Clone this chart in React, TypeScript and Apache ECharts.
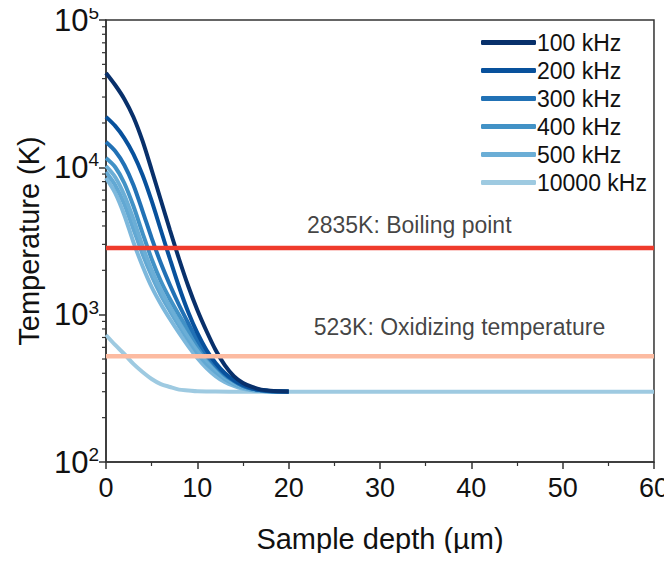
import React, { useEffect, useRef } from "react";
import * as echarts from "echarts";

const depth = [0, 1, 2, 3, 4, 5, 6, 7, 8, 9, 10, 11, 12, 13, 14, 15, 16, 17, 18, 20];
const depthWide = [0, 1, 2, 3, 4, 5, 6, 7, 8, 9, 10, 12, 15, 20, 30, 40, 50, 60];

const t100 = [43700, 36200, 29100, 21960, 15100, 9590, 6000, 3755, 2387, 1565, 1076, 775, 576, 455, 383, 344, 323, 310, 305, 301];
const t200 = [22000, 19100, 15800, 12300, 8870, 5910, 3755, 2387, 1541, 1042, 751, 576, 470, 402, 360, 333, 316, 307, 303, 301];
const t300 = [14860, 12900, 10370, 7590, 5050, 3310, 2240, 1590, 1163, 878, 673, 541, 455, 396, 355, 328, 314, 307, 302, 300];
const t400 = [11570, 10050, 7830, 5460, 3580, 2390, 1692, 1277, 995, 787, 632, 524, 448, 389, 355, 328, 314, 307, 302, 300];
const t500 = [10210, 8600, 6490, 4460, 2920, 2010, 1471, 1127, 892, 717, 585, 492, 428, 378, 344, 323, 310, 305, 302, 300];
const tExtraA = [9300, 7590, 5640, 3815, 2580, 1830, 1360, 1060, 838, 673, 549, 463, 408, 366, 338, 320, 308, 304, 301, 300];
const tExtraB = [8470, 6700, 4750, 3110, 2140, 1541, 1181, 934, 751, 612, 508, 434, 383, 349, 328, 314, 307, 303, 301, 300];
const t10000 = [728, 623, 541, 463, 408, 366, 338, 323, 310, 306, 302, 301, 300, 300, 300, 300, 300, 300];

const boilingPoint = 2835;
const oxidizingTemp = 523;
const xRange = [0, 60];
const yMinorTicks = [200, 300, 400, 500, 600, 700, 800, 900, 2000, 3000, 4000, 5000, 6000, 7000, 8000, 9000, 20000, 30000, 40000, 50000, 60000, 70000, 80000, 90000];

const FONT = "Liberation Sans, Arial, sans-serif";

export default function App() {
  const ref = useRef<HTMLDivElement>(null);
  useEffect(() => {
    if (!ref.current) return;
    const chart = echarts.init(ref.current, undefined, { renderer: "svg" });
    const mk = (arr: number[], xs: number[]) => xs.map((d, i) => [d, arr[i]]);
    const curve = (name: string, arr: number[], color: string, xs = depth) => ({
      type: "line",
      name,
      data: mk(arr, xs),
      showSymbol: false,
      symbol: "none",
      smooth: 0.3,
      lineStyle: { color, width: 4 },
      itemStyle: { color },
      z: 2,
    });
    const hline = (v: number, color: string) => ({
      type: "line",
      data: [[xRange[0], v], [xRange[1], v]],
      showSymbol: false,
      symbol: "none",
      lineStyle: { color, width: 4.5 },
      itemStyle: { color },
      z: 3,
      silent: true,
    });
    const label = (x: number, v: number, text: string, dist: number) => ({
      type: "scatter",
      data: [[x, v]],
      symbolSize: 1,
      itemStyle: { color: "rgba(0,0,0,0)" },
      label: {
        show: true,
        position: "top",
        distance: dist,
        formatter: text,
        color: "#111",
        fontSize: 23,
        fontFamily: FONT,
      },
      silent: true,
      z: 4,
    });
    const option = {
      animation: false,
      backgroundColor: "#fff",
      grid: {
        left: 106,
        right: 17,
        top: 20,
        bottom: 99,
        show: true,
        borderColor: "#333",
        borderWidth: 1.5,
        backgroundColor: "transparent",
      },
      legend: {
        data: ["100 kHz", "200 kHz", "300 kHz", "400 kHz", "500 kHz", "10000 kHz"],
        orient: "vertical",
        left: 476,
        top: 26,
        itemWidth: 55,
        itemHeight: 5,
        itemGap: 5,
        icon: "roundRect",
        textStyle: { fontSize: 23, color: "#111", fontFamily: FONT, padding: [0, 0, 0, -4] },
      },
      xAxis: {
        type: "value",
        min: 0,
        max: 60,
        interval: 10,
        name: "Sample depth (\u00b5m)",
        nameLocation: "middle",
        nameGap: 62,
        nameTextStyle: { fontSize: 29, color: "#111", fontFamily: FONT },
        axisLine: { show: true, lineStyle: { color: "#333", width: 1.5 } },
        axisTick: { show: true, length: 7, lineStyle: { color: "#333", width: 1.5 } },
        minorTick: { show: true, splitNumber: 2, length: 4, lineStyle: { color: "#333", width: 1.2 } },
        axisLabel: { fontSize: 27, color: "#111", fontFamily: FONT, margin: 12 },
        splitLine: { show: false },
      },
      yAxis: {
        type: "log",
        logBase: 10,
        min: 100,
        max: 100000,
        name: "Temperature (K)",
        nameLocation: "middle",
        nameGap: 62,
        nameTextStyle: { fontSize: 29, color: "#111", fontFamily: FONT },
        axisLine: { show: true, lineStyle: { color: "#333", width: 1.5 } },
        axisTick: { show: true, length: 7, lineStyle: { color: "#333", width: 1.5 } },
        axisLabel: {
          margin: 7,
          formatter: (v: number) => `{b|10}{e|${Math.round(Math.log10(v))}}`,
          rich: {
            b: { fontSize: 31, color: "#111", fontFamily: FONT, lineHeight: 34 },
            e: { fontSize: 19, color: "#111", fontFamily: FONT, verticalAlign: "top", lineHeight: 19 },
          },
        },
        splitLine: { show: false },
      },
      series: [
        curve("10000 kHz", t10000, "#9ecae1", depthWide),
        curve("700 kHz", tExtraB, "#7db8dc"),
        curve("600 kHz", tExtraA, "#62a8d3"),
        curve("500 kHz", t500, "#6baed6"),
        curve("400 kHz", t400, "#4292c6"),
        curve("300 kHz", t300, "#2171b5"),
        curve("200 kHz", t200, "#08519c"),
        curve("100 kHz", t100, "#08306b"),
        hline(boilingPoint, "#ef3b2c"),
        hline(oxidizingTemp, "#fcbba1"),
        label(33.2, boilingPoint, "2835K: Boiling point", 11),
        label(38.7, oxidizingTemp, "523K: Oxidizing temperature", 17),
        {
          type: "custom",
          silent: true,
          clip: false,
          data: yMinorTicks.map((v) => [0, v]),
          renderItem: (params: any, api: any) => {
            const p = api.coord([api.value(0), api.value(1)]);
            return {
              type: "line",
              shape: { x1: p[0] - 4, y1: p[1], x2: p[0], y2: p[1] },
              style: { stroke: "#333", lineWidth: 1.2 },
            };
          },
          z: 5,
        },
      ],
    };
    chart.setOption(option as any);
    return () => chart.dispose();
  }, []);
  return <div ref={ref} style={{ width: 672, height: 561, margin: -8 }} />;
}
